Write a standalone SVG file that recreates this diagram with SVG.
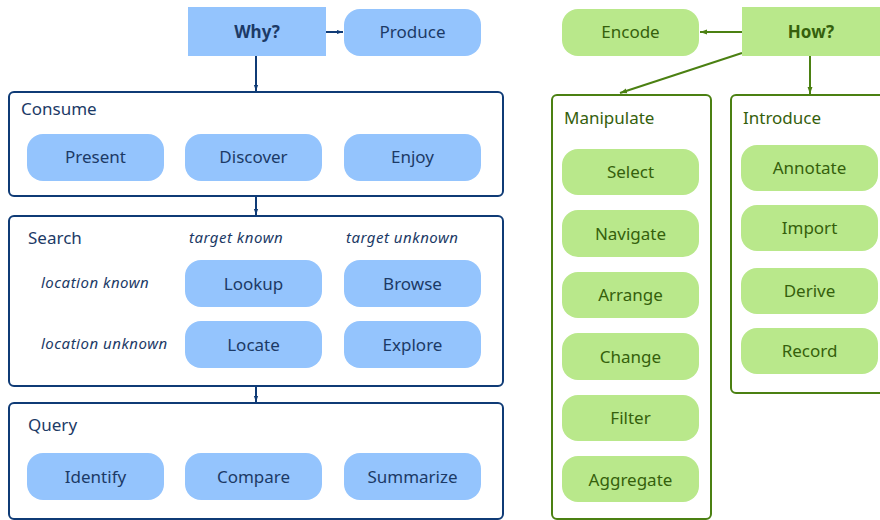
<svg xmlns="http://www.w3.org/2000/svg" width="880" height="520" viewBox="0 0 880 520">
<defs>
<marker id="ab" viewBox="0 0 10 10" refX="10" refY="5" markerWidth="6" markerHeight="6" orient="auto" markerUnits="userSpaceOnUse"><path d="M0,1.5 L10,5 L0,8.5 z" fill="#0f3b76"/></marker>
<marker id="ag" viewBox="0 0 10 10" refX="10" refY="5" markerWidth="7" markerHeight="7" orient="auto" markerUnits="userSpaceOnUse"><path d="M0,1.5 L10,5 L0,8.5 z" fill="#4b8012"/></marker>
<style>
text{font-family:"Noto Sans","Open Sans","DejaVu Sans",sans-serif;}
.bn{fill:#94c4fd;}
.gn{fill:#b9e88b;}
.bt{fill:#1c3a66;font-size:17px;text-anchor:middle;}
.gt{fill:#35600c;font-size:17px;text-anchor:middle;}
.bl{fill:#1c3a66;font-size:17px;}
.gl{fill:#35600c;font-size:17px;}
.it{fill:#1c3a66;font-size:15px;font-style:italic;letter-spacing:0.5px;}
.bbox{fill:#fff;stroke:#0f3b76;stroke-width:2;}
.gbox{fill:#fff;stroke:#4b8012;stroke-width:2;}
.bc{stroke:#0f3b76;stroke-width:2;fill:none;}
.gc{stroke:#4b8012;stroke-width:2;fill:none;}
</style>
</defs>
<rect width="880" height="520" fill="#fff"/>

<g id="consume"><rect class="bbox" x="9" y="92" width="494" height="104" rx="5"/><text class="bl" x="21" y="115">Consume</text></g>
<g id="search"><rect class="bbox" x="9" y="216" width="494" height="170" rx="5"/><text class="bl" x="28" y="244">Search</text>
<text class="it" x="189" y="243">target known</text><text class="it" x="346" y="243">target unknown</text>
<text class="it" x="41" y="288">location known</text><text class="it" x="41" y="349">location unknown</text></g>
<g id="query"><rect class="bbox" x="9" y="403" width="494" height="116" rx="5"/><text class="bl" x="28" y="431">Query</text></g>
<g id="manipulate"><rect class="gbox" x="552" y="95" width="159" height="424" rx="5"/><text class="gl" x="564" y="124">Manipulate</text></g>
<g id="introduce"><rect class="gbox" x="731" y="95" width="160" height="298" rx="5"/><text class="gl" x="743" y="124">Introduce</text></g>

<g id="connectors">
<line class="bc" x1="326" y1="32" x2="343" y2="32" marker-end="url(#ab)"/>
<line class="bc" x1="256" y1="56" x2="256" y2="91" marker-end="url(#ab)"/>
<line class="bc" x1="256" y1="196" x2="256" y2="215" marker-end="url(#ab)"/>
<line class="bc" x1="256" y1="386" x2="256" y2="402" marker-end="url(#ab)"/>
<line class="gc" x1="742" y1="32" x2="700" y2="32" marker-end="url(#ag)"/>
<line class="gc" x1="742" y1="53" x2="620" y2="93" marker-end="url(#ag)"/>
<line class="gc" x1="810" y1="56" x2="810" y2="94" marker-end="url(#ag)"/>
</g>

<g id="why"><rect class="bn" x="188" y="7" width="138" height="49"/><text x="257" y="38" font-size="17" font-weight="bold" fill="#1c3a66" text-anchor="middle">Why?</text></g>
<g id="produce"><rect class="bn" x="344" y="9" width="137" height="47" rx="16"/><text class="bt" x="412.5" y="38">Produce</text></g>
<g id="present"><rect class="bn" x="27" y="134" width="137" height="47" rx="16"/><text class="bt" x="95.5" y="163">Present</text></g>
<g id="discover"><rect class="bn" x="185" y="134" width="137" height="47" rx="16"/><text class="bt" x="253.5" y="163">Discover</text></g>
<g id="enjoy"><rect class="bn" x="344" y="134" width="137" height="47" rx="16"/><text class="bt" x="412.5" y="163">Enjoy</text></g>
<g id="lookup"><rect class="bn" x="185" y="260" width="137" height="47" rx="16"/><text class="bt" x="253.5" y="290">Lookup</text></g>
<g id="browse"><rect class="bn" x="344" y="260" width="137" height="47" rx="16"/><text class="bt" x="412.5" y="290">Browse</text></g>
<g id="locate"><rect class="bn" x="185" y="321" width="137" height="47" rx="16"/><text class="bt" x="253.5" y="351">Locate</text></g>
<g id="explore"><rect class="bn" x="344" y="321" width="137" height="47" rx="16"/><text class="bt" x="412.5" y="351">Explore</text></g>
<g id="identify"><rect class="bn" x="27" y="453" width="137" height="47" rx="16"/><text class="bt" x="95.5" y="483">Identify</text></g>
<g id="compare"><rect class="bn" x="185" y="453" width="137" height="47" rx="16"/><text class="bt" x="253.5" y="483">Compare</text></g>
<g id="summarize"><rect class="bn" x="344" y="453" width="137" height="47" rx="16"/><text class="bt" x="412.5" y="483">Summarize</text></g>

<g id="how"><rect class="gn" x="742" y="7" width="140" height="49"/><text x="811" y="38" font-size="17" font-weight="bold" fill="#35600c" text-anchor="middle">How?</text></g>
<g id="encode"><rect class="gn" x="562" y="9" width="137" height="47" rx="16"/><text class="gt" x="630.5" y="38">Encode</text></g>
<g id="select"><rect class="gn" x="562" y="149" width="137" height="46" rx="16"/><text class="gt" x="630.5" y="178">Select</text></g>
<g id="navigate"><rect class="gn" x="562" y="210" width="137" height="47" rx="16"/><text class="gt" x="630.5" y="240">Navigate</text></g>
<g id="arrange"><rect class="gn" x="562" y="272" width="137" height="46" rx="16"/><text class="gt" x="630.5" y="301">Arrange</text></g>
<g id="change"><rect class="gn" x="562" y="333" width="137" height="47" rx="16"/><text class="gt" x="630.5" y="363">Change</text></g>
<g id="filter"><rect class="gn" x="562" y="395" width="137" height="46" rx="16"/><text class="gt" x="630.5" y="424">Filter</text></g>
<g id="aggregate"><rect class="gn" x="562" y="456" width="137" height="46" rx="16"/><text class="gt" x="630.5" y="486">Aggregate</text></g>
<g id="annotate"><rect class="gn" x="741" y="145" width="137" height="46" rx="16"/><text class="gt" x="809.5" y="174">Annotate</text></g>
<g id="import"><rect class="gn" x="741" y="205" width="137" height="46" rx="16"/><text class="gt" x="809.5" y="234">Import</text></g>
<g id="derive"><rect class="gn" x="741" y="268" width="137" height="46" rx="16"/><text class="gt" x="809.5" y="297">Derive</text></g>
<g id="record"><rect class="gn" x="741" y="328" width="137" height="46" rx="16"/><text class="gt" x="809.5" y="357">Record</text></g>
</svg>
